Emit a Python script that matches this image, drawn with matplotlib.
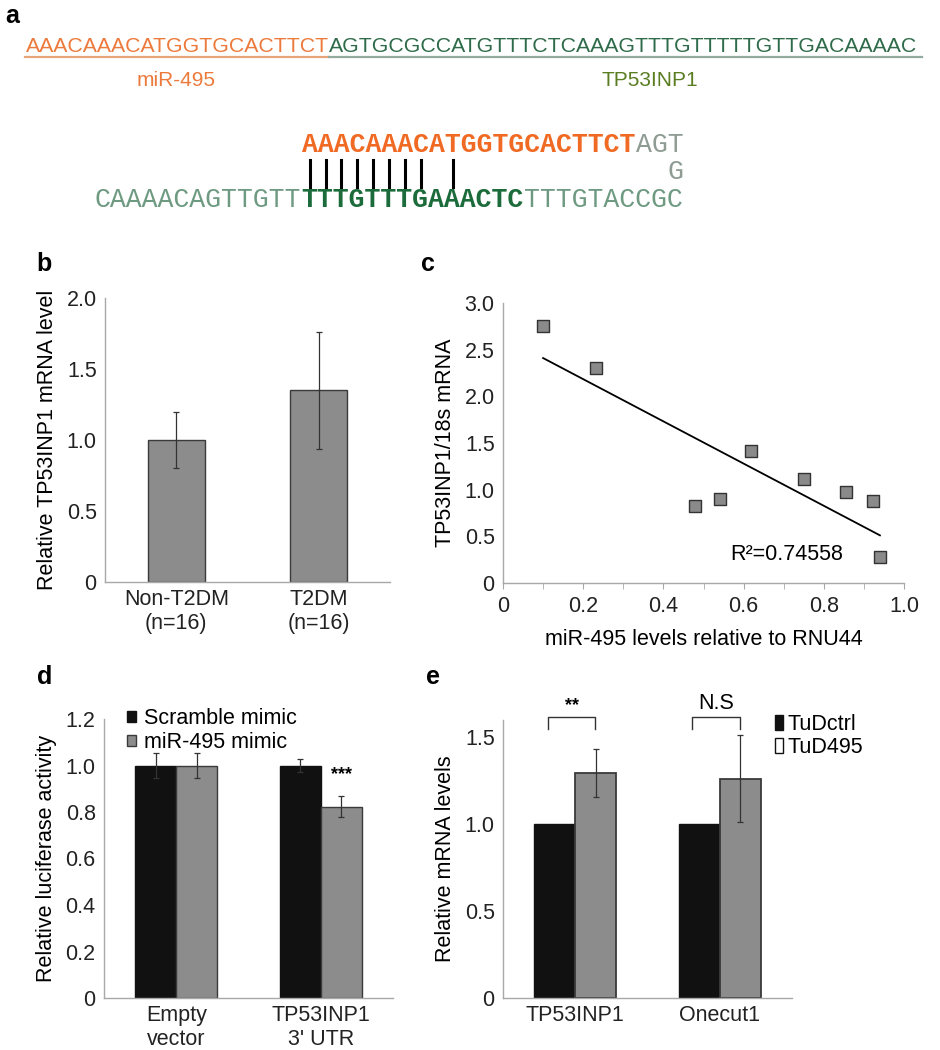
import numpy as np
import matplotlib.pyplot as plt
from matplotlib.lines import Line2D
from matplotlib.patches import Patch

plt.rcParams['font.family'] = ['Liberation Sans', 'DejaVu Sans']
plt.rcParams['font.size'] = 15.5

# ---- data ----
mir_seq = "AAACAAACATGGTGCACTTCT"
tp53_seq = "AGTGCGCCATGTTTCTCAAAGTTTGTTTTTGTTGACAAAAC"
top_seed = "AAACAAACATGGTGCACTTCT"
top_tail = "AGT"
bottom_left = "CAAAACAGTTGTT"
bottom_seed = "TTTGTTTGAAACTC"
bottom_right = "TTTGTACCGC"
paired = [0, 1, 2, 3, 4, 5, 6, 7, 9]

b_groups = ["Non-T2DM\n(n=16)", "T2DM\n(n=16)"]
b_vals = [1.0, 1.35]
b_err = [0.2, 0.41]

c_x = [0.10, 0.233, 0.479, 0.542, 0.618, 0.75, 0.855, 0.922, 0.94]
c_y = [2.75, 2.307, 0.82, 0.90, 1.41, 1.11, 0.97, 0.88, 0.28]
c_r2 = "R\u00b2=0.74558"

d_groups = ["Empty\nvector", "TP53INP1\n3' UTR"]
d_scramble = [1.0, 1.0]
d_scramble_err = [0.055, 0.03]
d_mimic = [1.0, 0.823]
d_mimic_err = [0.055, 0.045]

e_groups = ["TP53INP1", "Onecut1"]
e_ctrl = [1.0, 1.0]
e_tud = [1.295, 1.263]
e_tud_err = [0.14, 0.25]
e_sig = ["**", "N.S"]

W, H = 940, 1050
fig = plt.figure(figsize=(W / 100, H / 100), dpi=100)


def fx(x):
    return x / W


def fy(y):
    return 1 - y / H


def axes_px(left, top, right, bottom):
    return fig.add_axes([fx(left), fy(bottom), (right - left) / W, (bottom - top) / H])


def style(ax):
    for s in ["top", "right"]:
        ax.spines[s].set_visible(False)
    for s in ["left", "bottom"]:
        ax.spines[s].set_color("#a8a8a8")
        ax.spines[s].set_linewidth(1)
    ax.tick_params(axis="y", length=0, pad=6, colors="#222222")
    ax.tick_params(axis="x", length=0, pad=5, colors="#222222")


# ---- panel a ----
fig.text(fx(12), fy(16), "a", fontsize=18, fontweight="bold", ha="center", va="center")
split = 329
fig.text(fx(split), fy(46), mir_seq, color="#ec7a3c", fontsize=15.3, ha="right", va="center")
fig.text(fx(split), fy(46), tp53_seq, color="#2f6b4a", fontsize=15.3, ha="left", va="center")
fig.add_artist(Line2D([fx(25), fx(split)], [fy(57), fy(57)], color="#e8a47a", lw=1.6))
fig.add_artist(Line2D([fx(split), fx(922)], [fy(57), fy(57)], color="#93ab9c", lw=1.6))
fig.text(fx(176), fy(80), "miR-495", color="#ec7a3c", fontsize=15, ha="center", va="center")
fig.text(fx(650), fy(80), "TP53INP1", color="#5a7d22", fontsize=15, ha="center", va="center")

cw = 15.9
x0 = 95
mono = dict(family="Liberation Mono", fontsize=19.1, va="center", ha="left")
col_seed = len(bottom_left)
fig.text(fx(x0 + col_seed * cw), fy(145), top_seed, color="#f06a24", fontweight="bold", **mono)
fig.text(fx(x0 + (col_seed + len(top_seed)) * cw), fy(145), top_tail, color="#8e9c94", **mono)
fig.text(fx(x0 + (col_seed + len(top_seed) + 2) * cw), fy(172), "G", color="#8e9c94", **mono)
fig.text(fx(x0), fy(200), bottom_left, color="#6f9a82", **mono)
fig.text(fx(x0 + col_seed * cw), fy(200), bottom_seed, color="#1c6b3a", fontweight="bold", **mono)
fig.text(fx(x0 + (col_seed + len(bottom_seed)) * cw), fy(200), bottom_right, color="#6f9a82", **mono)
for i in paired:
    xc = x0 + (col_seed + i + 0.5) * cw
    fig.add_artist(Line2D([fx(xc), fx(xc)], [fy(160), fy(187)], color="black", lw=2.2))

gray = "#8c8c8c"
edge = "#3a3a3a"
ekw = dict(ecolor="#333333", elinewidth=0.9, capsize=2, capthick=0.9)

# ---- panel b ----
axb = axes_px(105, 298, 390, 582)
style(axb)
axb.bar(range(len(b_vals)), b_vals, width=0.4, color=gray, edgecolor=edge, lw=1,
        yerr=b_err, error_kw=ekw)
axb.set_xlim(-0.5, 1.5)
axb.set_ylim(0, 2.0)
axb.set_yticks([0, 0.5, 1.0, 1.5, 2.0], ["0", "0.5", "1.0", "1.5", "2.0"])
axb.set_xticks(range(len(b_groups)), b_groups)
axb.set_ylabel("Relative TP53INP1 mRNA level", labelpad=6)
fig.text(fx(44), fy(264), "b", fontsize=18, fontweight="bold", ha="center", va="center")

# ---- panel c ----
axc = axes_px(503, 303, 904, 583)
style(axc)
axc.scatter(c_x, c_y, marker="s", s=75, color="#8a8a8a", edgecolor="#333333", lw=1, zorder=3)
k, b0 = np.polyfit(c_x, c_y, 1)
xs = np.array([min(c_x), max(c_x)])
axc.plot(xs, k * xs + b0, color="black", lw=1.3)
axc.set_xlim(0, 1.0)
axc.set_ylim(0, 3.0)
axc.set_xticks(np.arange(0, 1.01, 0.2), ["0", "0.2", "0.4", "0.6", "0.8", "1.0"])
axc.set_xticks(np.arange(0, 1.01, 0.1), minor=True)
axc.tick_params(axis="x", which="both", length=4, color="#a8a8a8", direction="out")
axc.set_yticks(np.arange(0, 3.01, 0.5), ["0", "0.5", "1.0", "1.5", "2.0", "2.5", "3.0"])
axc.set_ylabel("TP53INP1/18s mRNA", labelpad=6)
axc.set_xlabel("miR-495 levels relative to RNU44", labelpad=9)
axc.text(0.566, 0.3, c_r2, ha="left", va="center", fontsize=15.5)
fig.text(fx(428), fy(264), "c", fontsize=18, fontweight="bold", ha="center", va="center")

# ---- panel d ----
axd = axes_px(104, 719, 393, 998)
style(axd)
w = 0.285
xd = np.arange(len(d_groups))
axd.bar(xd - w / 2, d_scramble, width=w, color="#111111", edgecolor="#111111", lw=1,
        yerr=d_scramble_err, error_kw=ekw, label="Scramble mimic")
axd.bar(xd + w / 2, d_mimic, width=w, color=gray, edgecolor=edge, lw=1,
        yerr=d_mimic_err, error_kw=ekw, label="miR-495 mimic")
axd.text(xd[1] + w / 2, d_mimic[1] + d_mimic_err[1] + 0.055, "***", ha="center", va="bottom",
         fontsize=13, fontweight="bold")
axd.set_xlim(-0.5, 1.5)
axd.set_ylim(0, 1.2)
axd.set_yticks(np.arange(0, 1.21, 0.2), ["0", "0.2", "0.4", "0.6", "0.8", "1.0", "1.2"])
axd.set_xticks(xd, d_groups)
axd.set_ylabel("Relative luciferase activity", labelpad=6)
axd.legend(loc="upper left", bbox_to_anchor=(fx(116), fy(697)), bbox_transform=fig.transFigure,
           frameon=False, borderpad=0, handlelength=0.42, handleheight=0.42,
           handletextpad=0.4, labelspacing=0.15, fontsize=15.5)
fig.text(fx(45), fy(677), "d", fontsize=18, fontweight="bold", ha="center", va="center")

# ---- panel e ----
axe = axes_px(503, 720, 792, 998)
style(axe)
xe = np.arange(len(e_groups))
axe.bar(xe - w / 2, e_ctrl, width=w, color="#111111", edgecolor="#111111", lw=1)
axe.bar(xe + w / 2, e_tud, width=w, color=gray, edgecolor=edge, lw=1.3,
        yerr=e_tud_err, error_kw=ekw)
for i, lab in enumerate(e_sig):
    xl, xr = xe[i] - 0.19, xe[i] + 0.14
    axe.plot([xl, xl, xr, xr], [1.55, 1.615, 1.615, 1.55], color="#333333", lw=1, clip_on=False)
    axe.text((xl + xr) / 2, 1.635, lab, ha="center", va="bottom",
             fontsize=13 if lab == "**" else 15.5, fontweight="bold" if lab == "**" else "normal")
axe.set_xlim(-0.5, 1.5)
axe.set_ylim(0, 1.6)
axe.set_yticks([0, 0.5, 1.0, 1.5], ["0", "0.5", "1.0", "1.5"])
axe.set_xticks(xe, e_groups)
axe.set_ylabel("Relative mRNA levels", labelpad=6)
handles = [Patch(facecolor="#111111", edgecolor="#111111"),
           Patch(facecolor="white", edgecolor="#111111")]
axe.legend(handles, ["TuDctrl", "TuD495"], loc="upper left", bbox_to_anchor=(fx(764), fy(703)),
           bbox_transform=fig.transFigure, frameon=False, borderpad=0, handlelength=0.38,
           handleheight=0.7, handletextpad=0.2, labelspacing=0.1, fontsize=15.5)
fig.text(fx(433), fy(677), "e", fontsize=18, fontweight="bold", ha="center", va="center")

fig.savefig("out.png", dpi=100)
